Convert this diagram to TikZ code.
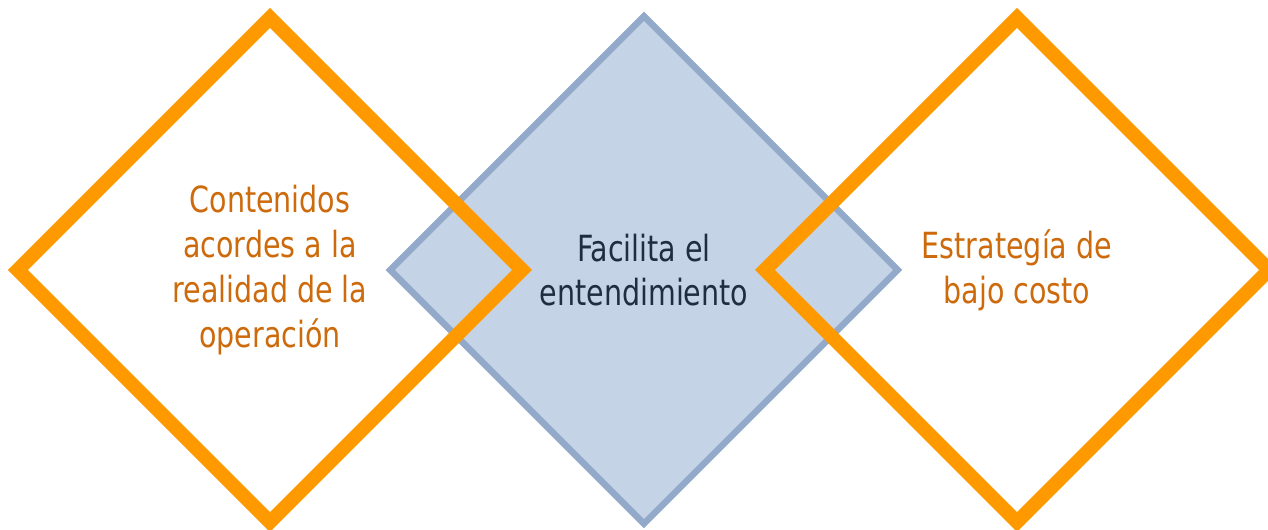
\documentclass[tikz,border=0pt]{standalone}
\usepackage{fontspec}
\setmainfont[FakeStretch=0.88]{DejaVu Sans Condensed}
\usepackage{xcolor}
\usetikzlibrary{shapes.geometric}
\definecolor{naranja}{HTML}{FF9900}
\definecolor{naranjatexto}{HTML}{CC6A0C}
\definecolor{azulborde}{HTML}{93A9C9}
\definecolor{azulrelleno}{HTML}{C5D3E6}
\definecolor{azultexto}{HTML}{1F2D40}

\begin{document}
\begin{tikzpicture}[
  rombo/.style={diamond, minimum width=10.2cm, minimum height=10.2cm, inner sep=0pt, align=center, font=\fontsize{20.5}{25.5}\selectfont},
  rombomedio/.style={rombo, draw=azulborde, fill=azulrelleno, line width=0.13cm, text=azultexto},
  rombolado/.style={rombo, draw=naranja, line width=0.28cm, text=naranjatexto}]
  \useasboundingbox (-12.88,-5.2) rectangle (12.48,5.4);
  \node[rombomedio] (facilita) at (0,0) {Facilita el\\entendimiento};
  \node[rombolado] (contenidos) at (-7.48,0) {Contenidos\\acordes a la\\realidad de la\\operación};
  \node[rombolado] (estrategia) at (7.46,0) {Estrategía de\\bajo costo};
\end{tikzpicture}
\end{document}
